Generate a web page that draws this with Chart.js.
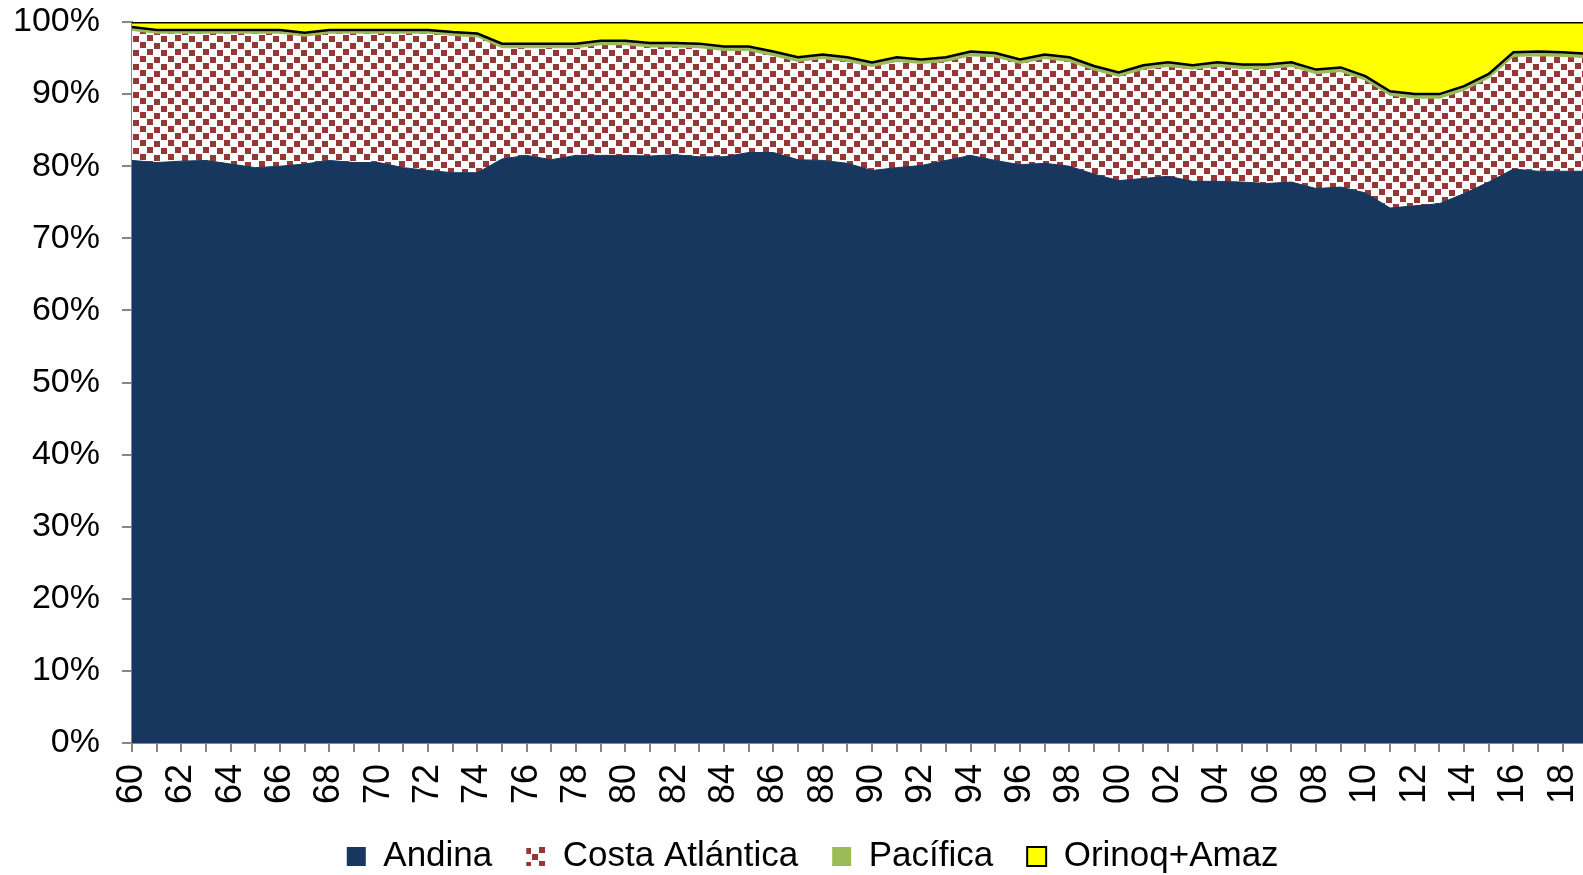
<!DOCTYPE html>
<html>
<head>
<meta charset="utf-8">
<title>Participación regional</title>
<script src="https://cdn.jsdelivr.net/npm/chart.js@4"></script>
<style>
  html, body { margin: 0; padding: 0; overflow: hidden; background: #fff; }
  #wrap { width: 1626px; height: 884px; }
</style>
</head>
<body>
<div id="wrap"><canvas id="myChart" width="1626" height="884"></canvas></div>
<script>
  // años 1960-2019 (el último queda cortado en el borde derecho)
  const years = [
    '60','61','62','63','64','65','66','67','68','69',
    '70','71','72','73','74','75','76','77','78','79',
    '80','81','82','83','84','85','86','87','88','89',
    '90','91','92','93','94','95','96','97','98','99',
    '00','01','02','03','04','05','06','07','08','09',
    '10','11','12','13','14','15','16','17','18','19'
  ];

  const andina = [
    80.8, 80.5, 80.7, 80.8, 80.3, 79.8, 80.0, 80.3, 80.8, 80.5,
    80.5, 79.8, 79.4, 79.1, 79.1, 81.0, 81.5, 80.9, 81.5, 81.5,
    81.5, 81.4, 81.6, 81.3, 81.3, 81.9, 81.9, 80.9, 80.8, 80.4,
    79.4, 79.8, 80.1, 80.8, 81.5, 80.8, 80.2, 80.4, 80.0, 78.9,
    78.0, 78.3, 78.6, 77.9, 77.9, 77.8, 77.6, 77.8, 76.9, 77.1,
    76.3, 74.2, 74.5, 74.8, 76.2, 77.8, 79.6, 79.3, 79.3, 79.3
  ];

  const costa = [
    18.1, 18.0, 17.8, 17.7, 18.2, 18.7, 18.5, 17.8, 17.7, 18.0,
    18.0, 18.7, 19.1, 19.1, 18.9, 15.5, 15.0, 15.6, 15.0, 15.4,
    15.4, 15.2, 15.0, 15.2, 14.8, 14.2, 13.5, 13.7, 14.2, 14.2,
    14.5, 14.8, 14.2, 13.8, 13.9, 14.4, 14.1, 14.6, 14.6, 14.5,
    14.5, 15.2, 15.3, 15.6, 16.0, 15.8, 16.0, 16.1, 16.0, 16.1,
    15.7, 15.7, 15.0, 14.7, 14.4, 14.5, 15.7, 16.1, 16.0, 15.8
  ];

  const pacifica = [
    0.4, 0.4, 0.4, 0.4, 0.4, 0.4, 0.4, 0.4, 0.4, 0.4,
    0.4, 0.4, 0.4, 0.4, 0.4, 0.5, 0.5, 0.5, 0.5, 0.5,
    0.5, 0.5, 0.5, 0.5, 0.5, 0.5, 0.5, 0.5, 0.5, 0.5,
    0.5, 0.5, 0.5, 0.5, 0.5, 0.5, 0.5, 0.5, 0.5, 0.5,
    0.5, 0.5, 0.5, 0.5, 0.5, 0.5, 0.5, 0.5, 0.5, 0.5,
    0.5, 0.5, 0.5, 0.5, 0.5, 0.5, 0.5, 0.5, 0.5, 0.5
  ];

  const orinoq = [
    0.7, 1.1, 1.1, 1.1, 1.1, 1.1, 1.1, 1.5, 1.1, 1.1,
    1.1, 1.1, 1.1, 1.4, 1.6, 3.0, 3.0, 3.0, 3.0, 2.6,
    2.6, 2.9, 2.9, 3.0, 3.4, 3.4, 4.1, 4.9, 4.5, 4.9,
    5.6, 4.9, 5.2, 4.9, 4.1, 4.3, 5.2, 4.5, 4.9, 6.1,
    7.0, 6.0, 5.6, 6.0, 5.6, 5.9, 5.9, 5.6, 6.6, 6.3,
    7.5, 9.6, 10.0, 10.0, 8.9, 7.2, 4.2, 4.1, 4.2, 4.4
  ];

  const FONT = "'Liberation Sans', Arial, sans-serif";
  const AXIS = '#868686';

  // trama de cuadritos para Costa Atlántica
  function makePattern() {
    const c = document.createElement('canvas');
    c.width = 28;
    c.height = 28;
    const g = c.getContext('2d');
    g.fillStyle = '#ffffff';
    g.fillRect(0, 0, 28, 28);
    g.fillStyle = '#953735';
    [[0, 0], [14, 1], [7, 7], [21, 8], [0, 14], [14, 15], [7, 21], [21, 22]]
      .forEach(p => g.fillRect(p[0], p[1], 6, 6));
    return g.createPattern(c, 'repeat');
  }
  const trama = makePattern();

  const data = {
    labels: years,
    datasets: [{
      label: 'Andina',
      data: andina,
      backgroundColor: '#17375E',
      borderColor: '#17375E',
      borderWidth: 1,
      fill: 'origin'
    }, {
      label: 'Costa Atlántica',
      data: costa,
      backgroundColor: trama,
      borderColor: '#9BBB59',
      borderWidth: 2,
      fill: '-1'
    }, {
      label: 'Pacífica',
      data: pacifica,
      backgroundColor: '#9BBB59',
      borderColor: '#000000',
      borderWidth: 2.5,
      fill: '-1'
    }, {
      label: 'Orinoq+Amaz',
      data: orinoq,
      backgroundColor: '#FFFF00',
      borderColor: '#000000',
      borderWidth: 3,
      fill: '-1'
    }]
  };

  const legendKeys = {
    'Andina': { stroke: '#17375E', width: 0 },
    'Costa Atlántica': { stroke: '#ffffff', width: 0 },
    'Pacífica': { stroke: '#9BBB59', width: 0 },
    'Orinoq+Amaz': { stroke: '#000000', width: 2 }
  };

  // la leyenda va centrada en el gráfico completo, no en el área útil
  const legendShift = {
    id: 'legendShift',
    afterLayout(chart) {
      chart.legend.left += 19;
      chart.legend.right += 19;
    }
  };

  const config = {
    type: 'line',
    data: data,
    plugins: [legendShift],
    options: {
      responsive: false,
      animation: false,
      layout: { padding: { top: 22, right: 38.6, left: 0, bottom: 0 } },
      elements: {
        point: { radius: 0 },
        line: { tension: 0 }
      },
      scales: {
        x: {
          offset: false,
          grid: {
            drawOnChartArea: false,
            drawTicks: true,
            tickLength: 9,
            color: AXIS,
            lineWidth: 2
          },
          border: { color: AXIS, width: 2 },
          ticks: {
            autoSkip: false,
            maxRotation: 90,
            minRotation: 90,
            padding: 12,
            color: '#000',
            font: { family: FONT, size: 36 },
            callback: function (val, i) {
              return i % 2 === 0 ? years[i] : '';
            }
          },
          afterFit: function (scale) {
            scale.height = 62;
            scale.paddingLeft = 0;
            scale.paddingRight = 0;
          }
        },
        y: {
          stacked: true,
          min: 0,
          max: 100,
          grid: {
            drawOnChartArea: false,
            drawTicks: true,
            tickLength: 10,
            color: AXIS,
            lineWidth: 2
          },
          border: { color: AXIS, width: 2 },
          ticks: {
            stepSize: 10,
            padding: 22,
            color: '#000',
            font: { family: FONT, size: 34 },
            callback: function (v) { return v + '%'; }
          },
          afterFit: function (scale) {
            scale.width = 132;
            scale.paddingTop = 0;
            scale.paddingBottom = 0;
          }
        }
      },
      plugins: {
        tooltip: { enabled: false },
        legend: {
          position: 'bottom',
          labels: {
            boxWidth: 19,
            boxHeight: 19,
            padding: 34,
            color: '#000',
            font: { family: FONT, size: 35 },
            generateLabels: function (chart) {
              const items = Chart.defaults.plugins.legend.labels.generateLabels(chart);
              items.forEach(it => {
                const k = legendKeys[it.text];
                it.strokeStyle = k.stroke;
                it.lineWidth = k.width;
              });
              return items;
            }
          }
        }
      }
    }
  };

  const myChart = new Chart(
    document.getElementById('myChart'),
    config
  );
</script>
</body>
</html>
